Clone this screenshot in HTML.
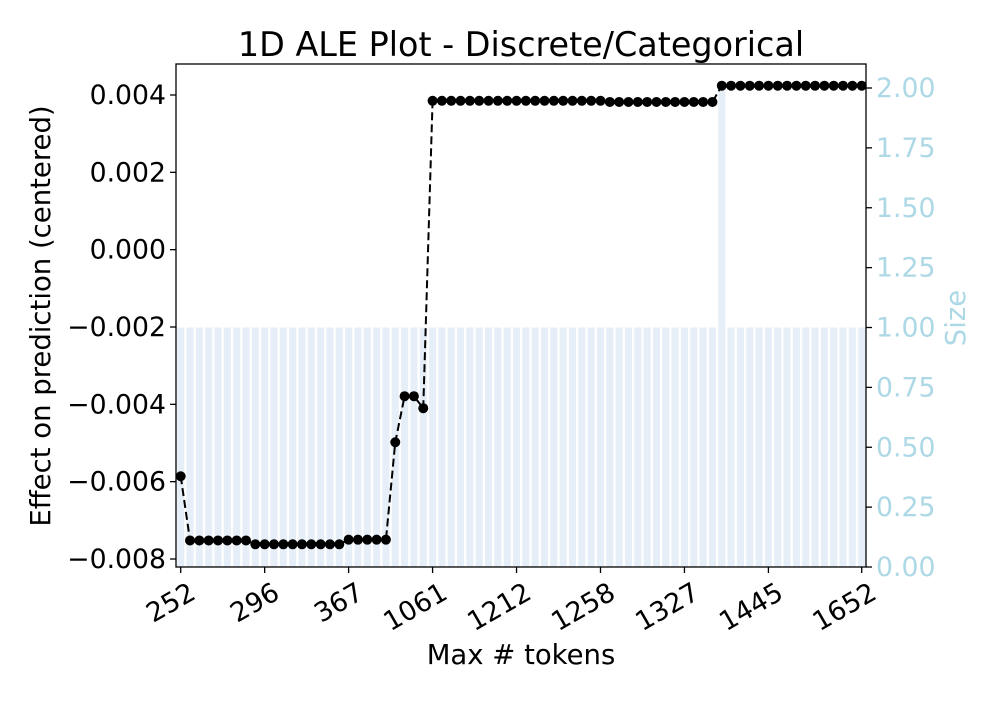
<!DOCTYPE html>
<html><head><meta charset="utf-8"><style>
body{margin:0;background:#fff;}
svg text{font-family:"DejaVu Sans","Liberation Sans",sans-serif;}
</style></head><body>
<svg id="chart" width="1000" height="700" xmlns="http://www.w3.org/2000/svg"></svg>
<script>
const aleValues=[
-0.00586,
-0.00752,-0.00752,-0.00752,-0.00752,-0.00752,-0.00752,-0.00752,
-0.00762,-0.00762,-0.00762,-0.00762,-0.00762,-0.00762,-0.00762,-0.00762,-0.00762,-0.00762,
-0.00750,-0.00750,-0.00750,-0.00750,-0.00750,
-0.00498,-0.00379,-0.00379,-0.00410,
0.00385,0.00385,0.00385,0.00385,0.00385,0.00385,0.00385,0.00385,0.00385,0.00385,
0.00385,0.00385,0.00385,0.00385,0.00385,0.00385,0.00385,0.00385,0.00385,
0.00382,0.00382,0.00382,0.00382,0.00382,0.00382,0.00382,0.00382,0.00382,0.00382,0.00382,0.00382,
0.00424,0.00424,0.00424,0.00424,0.00424,0.00424,0.00424,0.00424,
0.00424,0.00424,0.00424,0.00424,0.00424,0.00424,0.00424,0.00424];
const sizes=aleValues.map((v,i)=>i===58?2:1);
const xTickIdx=[0,9,18,27,36,45,54,63,73];
const xTickLabels=["252","296","367","1061","1212","1258","1327","1445","1652"];
const yTicks=[0.004,0.002,0,-0.002,-0.004,-0.006,-0.008];
const yTickLabels=["0.004","0.002","0.000","\u22120.002","\u22120.004","\u22120.006","\u22120.008"];
const y2Ticks=[0,0.25,0.5,0.75,1,1.25,1.5,1.75,2];
const y2TickLabels=["0.00","0.25","0.50","0.75","1.00","1.25","1.50","1.75","2.00"];

const L=176,R=866,T=64,B=567,n=aleValues.length;
const xs=i=>180.7+i*(861.7-180.7)/(n-1);
const ys=v=>95+(0.004-v)*38667;
const ys2=v=>B-v*(B-88)/2;
const svg=document.getElementById('chart');
const NS='http://www.w3.org/2000/svg';
function mk(tag,attrs,txt){const e=document.createElementNS(NS,tag);for(const k in attrs)e.setAttribute(k,attrs[k]);if(txt!=null)e.textContent=txt;svg.appendChild(e);return e;}
const bw=(R-L)/n*0.76;
sizes.forEach((s,i)=>{const e=mk('rect',{x:xs(i)-bw/2,y:ys2(s),width:bw,height:B-ys2(s),fill:'#e6eff8'});

});
let d=aleValues.map((v,i)=>(i?'L':'M')+xs(i)+','+ys(v)).join(' ');
const ln=mk('path',{d:d,fill:'none',stroke:'#000','stroke-width':2,'stroke-dasharray':'8,4'});


aleValues.forEach((v,i)=>{const c=mk('circle',{cx:xs(i),cy:ys(v),r:5,fill:'#000'});

});
const fr=mk('rect',{x:L,y:T,width:R-L,height:B-T,fill:'none',stroke:'#000','stroke-width':1.3});


yTicks.forEach((v,i)=>{mk('line',{x1:L-6,x2:L,y1:ys(v),y2:ys(v),stroke:'#000','stroke-width':1.3});
const t=mk('text',{x:L-10,y:ys(v)+9,'text-anchor':'end','font-size':26.7,fill:'#000'},yTickLabels[i]);

});
y2Ticks.forEach((v,i)=>{mk('line',{x1:R,x2:R+6,y1:ys2(v),y2:ys2(v),stroke:'#000','stroke-width':1.3});
const t=mk('text',{x:R+10,y:ys2(v)+9,'font-size':26.7,fill:'#add8e6'},y2TickLabels[i]);

});
xTickIdx.forEach((k,i)=>{const x=xs(k);mk('line',{x1:x,x2:x,y1:B,y2:B+6,stroke:'#000','stroke-width':1.3});
const t=mk('text',{x:x+7,y:B+14,'text-anchor':'end','font-size':26.7,fill:'#000',transform:`rotate(-30 ${x+7} ${B+14})`,'dominant-baseline':'hanging'},xTickLabels[i]);

});
</script>
<svg style="position:absolute;left:0;top:0" width="1000" height="700" xmlns="http://www.w3.org/2000/svg">
<text x="521" y="56" text-anchor="middle" font-size="33.4" font-family="DejaVu Sans,Liberation Sans,sans-serif">1D ALE Plot - Discrete/Categorical</text>
<text x="521" y="664" text-anchor="middle" font-size="27.5" font-family="DejaVu Sans,Liberation Sans,sans-serif">Max # tokens</text>
<text x="50" y="316" text-anchor="middle" font-size="27.5" transform="rotate(-90 50 316)" font-family="DejaVu Sans,Liberation Sans,sans-serif">Effect on prediction (centered)</text>
<text x="965" y="318" text-anchor="middle" font-size="27.5" fill="#add8e6" transform="rotate(-90 965 318)" font-family="DejaVu Sans,Liberation Sans,sans-serif">Size</text>
</svg>
</body></html>
